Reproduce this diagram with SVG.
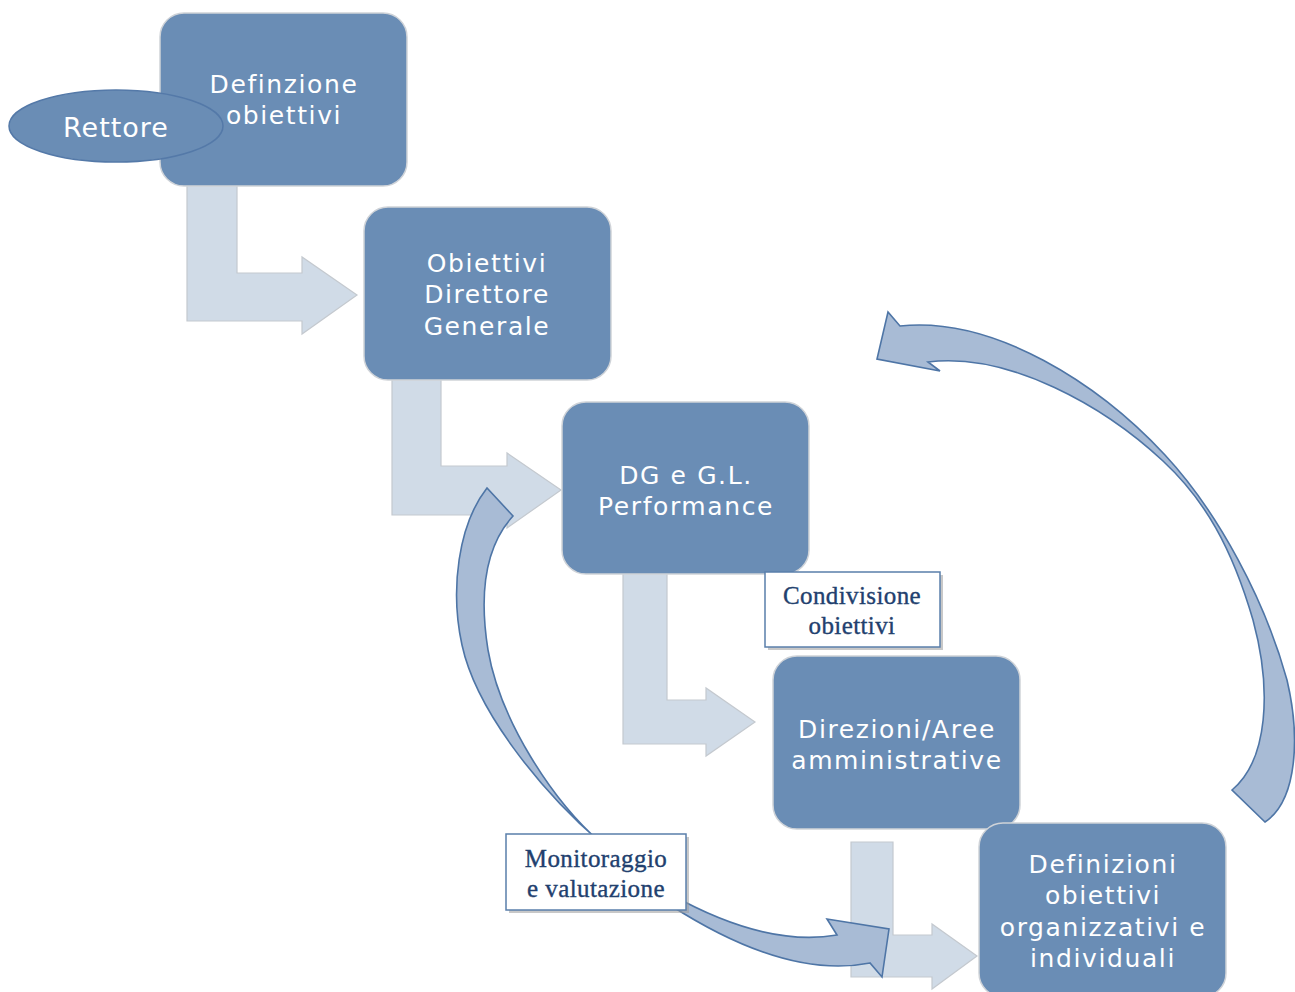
<svg xmlns="http://www.w3.org/2000/svg" width="1295" height="992" viewBox="0 0 1295 992">
<style>
.box{fill:#6a8db5;stroke:#cfd3d8;stroke-width:1.5}
.bt{fill:#ffffff;font-family:"DejaVu Sans","Open Sans",sans-serif;font-size:25px;letter-spacing:1.6px;text-anchor:middle}
.bent{fill:#d0dbe7;stroke:#c4c9cf;stroke-width:1.2}
.curve{fill:#a8bbd5;stroke:#4e75a6;stroke-width:1.6;stroke-linejoin:miter}
.lbl{fill:#ffffff;stroke:#5a7fab;stroke-width:1.5}
.shadow{fill:#9a9a9a;opacity:0.55}
.lt{fill:#22406e;stroke:#22406e;stroke-width:0.35;font-family:"Liberation Serif","DejaVu Serif",serif;font-size:25px;letter-spacing:0.4px;text-anchor:middle}
</style>
<rect width="1295" height="992" fill="#ffffff"/>
<g id="connectors">
  <polygon class="bent" points="187,184 237,184 237,273 302,273 302,257 357,295 302,334 302,321 187,321"/>
  <polygon class="bent" points="392,378 441,378 441,466 507,466 507,453 561,490 507,528 507,515 392,515"/>
  <polygon class="bent" points="623,572 667,572 667,700 706,700 706,688 755,722 706,756 706,744 623,744"/>
  <polygon class="bent" points="851,842 893,842 893,935 932,935 932,924 977,956 932,989 932,977 851,977"/>
</g>
<g id="node-obiettivi-dg">
  <rect class="box" x="364" y="207" width="247" height="173" rx="24"/>
  <text class="bt"><tspan x="487" y="272">Obiettivi</tspan><tspan x="487" dy="31">Direttore</tspan><tspan x="487" dy="32">Generale</tspan></text>
</g>
<g id="node-dg-gl">
  <rect class="box" x="562" y="402" width="247" height="172" rx="24"/>
  <text class="bt"><tspan x="686" y="484">DG e G.L.</tspan><tspan x="686" dy="31">Performance</tspan></text>
</g>
<g id="node-direzioni">
  <rect class="box" x="773" y="656" width="247" height="173" rx="24"/>
  <text class="bt"><tspan x="897" y="738">Direzioni/Aree</tspan><tspan x="897" dy="31">amministrative</tspan></text>
</g>
<g id="node-definizioni">
  <rect class="box" x="979" y="823" width="247" height="174" rx="24"/>
  <text class="bt"><tspan x="1103" y="873">Definizioni</tspan><tspan x="1103" dy="31">obiettivi</tspan><tspan x="1103" dy="32">organizzativi e</tspan><tspan x="1103" dy="31">individuali</tspan></text>
</g>
<g id="node-definzione">
  <rect class="box" x="160" y="13" width="247" height="173" rx="24"/>
  <text class="bt"><tspan x="284" y="93">Definzione</tspan><tspan x="284" dy="31">obiettivi</tspan></text>
</g>
<g id="node-rettore">
  <ellipse cx="116" cy="126" rx="107" ry="36" fill="#6a8db5" stroke="#5479a8" stroke-width="1.5"/>
  <text class="bt" x="116" y="137" style="font-size:27px;letter-spacing:1px">Rettore</text>
</g>
<g id="curved-connectors">
  <path class="curve" d="M487,488 C458,525 450,590 462,645 C476,710 540,790 600,842 C552,800 500,720 488,650 C480,600 482,550 513,516 Z"/>
  <path class="curve" d="M670,894 C720,922 780,945 837,935 L827,919 L889,929 L882,977 L870,963 C810,975 740,950 670,905 Z"/>
  <path class="curve" d="M900,326 C995,316 1100,385 1165,455 C1218,512 1265,600 1287,680 C1300,735 1298,800 1265,822 L1232,790 C1268,760 1272,690 1253,620 C1232,548 1205,500 1163,461 C1105,407 1010,352 928,362 L940,371 L877,359 L888,312 Z"/>
</g>
<g id="label-condivisione">
  <rect class="shadow" x="768" y="575" width="175" height="75"/>
  <rect class="lbl" x="765" y="572" width="175" height="75"/>
  <text class="lt"><tspan x="852" y="604">Condivisione</tspan><tspan x="852" dy="30">obiettivi</tspan></text>
</g>
<g id="label-monitoraggio">
  <rect class="shadow" x="509" y="837" width="180" height="76"/>
  <rect class="lbl" x="506" y="834" width="180" height="76"/>
  <text class="lt"><tspan x="596" y="867">Monitoraggio</tspan><tspan x="596" dy="30">e valutazione</tspan></text>
</g>
</svg>
